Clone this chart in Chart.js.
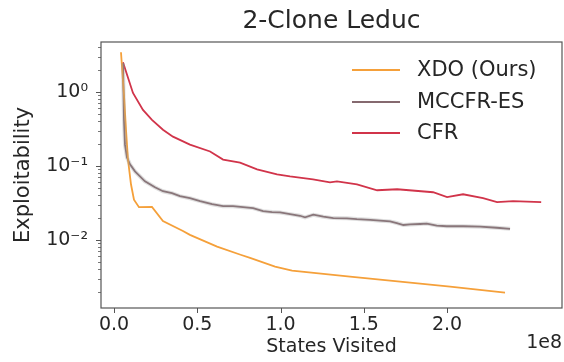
<!DOCTYPE html>
<html>
<head>
<meta charset="utf-8">
<script src="https://cdn.jsdelivr.net/npm/chart.js@4"></script>
<style>
  html, body { margin: 0; padding: 0; background: #fff; }
  #wrap { width: 564px; height: 362px; }
</style>
</head>
<body>
<div id="wrap"><canvas id="chart" width="564" height="362"></canvas></div>
<script>
// Data (x = states visited, y = exploitability)
const xdoX = [0.042e8, 0.060e8, 0.072e8, 0.084e8, 0.102e8, 0.12e8, 0.150e8, 0.228e8, 0.294e8, 0.414e8, 0.456e8, 0.619e8, 0.76e8, 0.817e8, 0.967e8, 1.069e8, 1.417e8, 1.718e8, 2.018e8, 2.348e8];
const xdoY = [3.44, 0.91, 0.31, 0.122, 0.0565, 0.035, 0.0277, 0.028, 0.018, 0.0132, 0.0117, 0.0081, 0.0063, 0.0057, 0.00434, 0.00383, 0.00319, 0.00273, 0.00234, 0.00194];

const mccfrX = [0.054e8, 0.060e8, 0.066e8, 0.078e8, 0.096e8, 0.126e8, 0.186e8, 0.246e8, 0.294e8, 0.348e8, 0.396e8, 0.456e8, 0.517e8, 0.589e8, 0.655e8, 0.715e8, 0.775e8, 0.835e8, 0.895e8, 0.949e8,
  0.997e8, 1.057e8, 1.117e8, 1.147e8, 1.197e8, 1.257e8, 1.317e8, 1.398e8, 1.458e8, 1.538e8, 1.598e8, 1.658e8, 1.698e8, 1.738e8, 1.778e8, 1.838e8, 1.878e8, 1.938e8, 1.998e8, 2.098e8, 2.198e8, 2.298e8, 2.378e8];
const mccfrY = [2.45, 0.42, 0.194, 0.13, 0.105, 0.0844, 0.062, 0.0514, 0.0455, 0.0428, 0.039, 0.0366, 0.0334, 0.0304, 0.0286, 0.0286, 0.0277, 0.0269, 0.0245, 0.0238,
  0.0235, 0.0223, 0.0212, 0.0202, 0.0219, 0.0206, 0.0197, 0.0196, 0.0191, 0.0187, 0.0182, 0.0178, 0.0169, 0.0159, 0.0162, 0.0164, 0.0166, 0.0156, 0.0153, 0.0153, 0.0151, 0.0146, 0.0141];

const cfrX = [0.054e8, 0.114e8, 0.174e8, 0.228e8, 0.294e8, 0.354e8, 0.456e8, 0.577e8, 0.655e8, 0.757e8, 0.859e8, 0.979e8, 1.057e8, 1.195e8, 1.297e8, 1.339e8, 1.459e8, 1.58e8, 1.70e8, 1.916e8, 2.0e8, 2.096e8, 2.216e8, 2.30e8, 2.396e8, 2.565e8];
const cfrY = [2.53, 0.97, 0.573, 0.42, 0.309, 0.249, 0.194, 0.157, 0.122, 0.111, 0.0897, 0.0769, 0.0723, 0.0659, 0.0601, 0.062, 0.0565, 0.0469, 0.0484, 0.0441, 0.0378, 0.0414, 0.0366, 0.0324, 0.0334, 0.0324];

const seriesNames = ['XDO (Ours)', 'MCCFR-ES', 'CFR'];
const seriesColors = ['#f5a03a', '#85696f', '#d1344a'];

const xTickValues = [0, 0.5e8, 1.0e8, 1.5e8, 2.0e8];
const xTickLabels = ['0.0', '0.5', '1.0', '1.5', '2.0'];
const yMajorTicks = [0.01, 0.1, 1];
const yTickLabels = ['10\u207B\u00B2', '10\u207B\u00B9', '10\u2070'];

const X_MIN = -0.078e8, X_MAX = 2.69e8;
const Y_MIN = 0.0012, Y_MAX = 4.74;
const TEXT = '#262626';
const FRAME = '#555';

const toPoints = (xs, ys) => xs.map((x, i) => ({ x: x, y: ys[i] }));

// minor tick positions on the log axis (2..9 x 10^n)
const yMinorTicks = [];
[0.001, 0.01, 0.1, 1].forEach(d => {
  for (let m = 2; m <= 9; m++) {
    const v = m * d;
    if (v >= Y_MIN && v <= Y_MAX) yMinorTicks.push(v);
  }
});

Chart.defaults.font.family = '"DejaVu Sans", sans-serif';
Chart.defaults.color = TEXT;

// frame, tick marks, legend and the 1e8 offset text
const decorPlugin = {
  id: 'decor',
  afterDraw(chart) {
    const ctx = chart.ctx;
    const a = chart.chartArea;
    const xs = chart.scales.x, ys = chart.scales.y;
    ctx.save();
    ctx.strokeStyle = FRAME;
    ctx.lineWidth = 1.2;
    ctx.strokeRect(a.left, a.top, a.right - a.left, a.bottom - a.top);

    const seg = (x1, y1, x2, y2) => { ctx.beginPath(); ctx.moveTo(x1, y1); ctx.lineTo(x2, y2); ctx.stroke(); };
    ctx.lineWidth = 1;
    xTickValues.forEach(v => {
      const px = Math.round(xs.getPixelForValue(v)) + 0.5;
      seg(px, a.bottom, px, a.bottom + 5);
    });
    yMajorTicks.forEach(v => {
      const py = Math.round(ys.getPixelForValue(v)) + 0.5;
      seg(a.left - 5, py, a.left, py);
    });
    ctx.lineWidth = 0.8;
    yMinorTicks.forEach(v => {
      const py = Math.round(ys.getPixelForValue(v)) + 0.5;
      seg(a.left - 3, py, a.left, py);
    });

    // legend
    ctx.font = '21px "DejaVu Sans"';
    ctx.textBaseline = 'middle';
    ctx.textAlign = 'left';
    const rows = [70, 102, 133];
    let r = 0;
    chart.data.datasets.forEach(ds => {
      if (!ds.label) return;
      const y = rows[r++];
      ctx.strokeStyle = ds.borderColor;
      ctx.lineWidth = 2;
      seg(352, y, 400, y);
      ctx.fillStyle = TEXT;
      ctx.fillText(ds.label, 417, y + 1);
    });

    // offset text
    ctx.font = '19px "DejaVu Sans"';
    ctx.textAlign = 'right';
    ctx.fillStyle = TEXT;
    ctx.fillText('1e8', a.right, 343);
    ctx.restore();
  }
};

new Chart(document.getElementById('chart'), {
  type: 'line',
  data: {
    datasets: [
      { label: '', data: toPoints(mccfrX, mccfrY), borderColor: 'rgba(150,150,150,0.3)', borderWidth: 4, pointRadius: 0, fill: false },
      { label: seriesNames[0], data: toPoints(xdoX, xdoY), borderColor: seriesColors[0], borderWidth: 1.8, pointRadius: 0, fill: false },
      { label: seriesNames[1], data: toPoints(mccfrX, mccfrY), borderColor: seriesColors[1], borderWidth: 1.8, pointRadius: 0, fill: false },
      { label: seriesNames[2], data: toPoints(cfrX, cfrY), borderColor: seriesColors[2], borderWidth: 1.8, pointRadius: 0, fill: false }
    ]
  },
  options: {
    responsive: false,
    animation: false,
    layout: { padding: { left: 0, right: 2, top: 0, bottom: 0 } },
    plugins: {
      legend: { display: false },
      tooltip: { enabled: false },
      title: {
        display: true, text: '2-Clone Leduc', fullSize: false, color: TEXT,
        font: { size: 25, weight: 'normal' }, padding: { top: 6, bottom: 6 }
      }
    },
    scales: {
      x: {
        type: 'linear', min: X_MIN, max: X_MAX,
        afterBuildTicks: s => { s.ticks = xTickValues.map(v => ({ value: v })); },
        afterFit: s => { s.height = 54; },
        grid: { display: false, drawTicks: false },
        border: { display: false },
        ticks: {
          autoSkip: false, maxRotation: 0, padding: 6, color: TEXT, font: { size: 19 },
          callback: v => xTickLabels[xTickValues.indexOf(v)]
        },
        title: { display: true, text: 'States Visited', color: TEXT, font: { size: 19 }, padding: { top: 0, bottom: 4 } }
      },
      y: {
        type: 'logarithmic', min: Y_MIN, max: Y_MAX,
        afterBuildTicks: s => { s.ticks = yMajorTicks.map(v => ({ value: v })); },
        afterFit: s => { s.width = 101; },
        grid: { display: false, drawTicks: false },
        border: { display: false },
        ticks: {
          autoSkip: false, padding: 13, color: TEXT, font: { size: 19 },
          callback: v => yTickLabels[yMajorTicks.indexOf(v)]
        },
        title: { display: true, text: 'Exploitability', color: TEXT, font: { size: 21 }, padding: { top: 11, bottom: 0 } }
      }
    }
  },
  plugins: [decorPlugin]
});
</script>
</body>
</html>
